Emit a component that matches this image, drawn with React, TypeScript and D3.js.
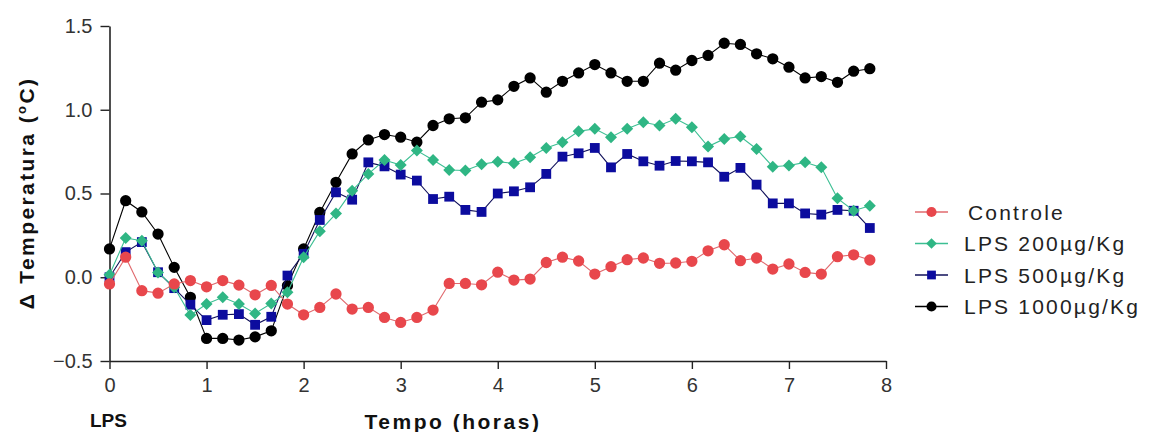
import * as d3 from 'd3'
import React, { useEffect, useRef } from 'react'

// sample times (minutes after LPS)
const minutes = [0, 10, 20, 30, 40, 50, 60, 70, 80, 90, 100, 110, 120, 130, 140, 150, 160, 170, 180, 190,
  200, 210, 220, 230, 240, 250, 260, 270, 280, 290, 300, 310, 320, 330, 340, 350, 360, 370, 380, 390,
  400, 410, 420, 430, 440, 450, 460, 470]

const controle = [-0.04, 0.12, -0.08, -0.095, -0.04, -0.02, -0.057, -0.02, -0.047, -0.105, -0.049, -0.16,
  -0.224, -0.18, -0.10, -0.19, -0.18, -0.24, -0.27, -0.24, -0.196, -0.037, -0.037, -0.045,
  0.03, -0.017, -0.011, 0.088, 0.12, 0.097, 0.019, 0.063, 0.105, 0.115, 0.083, 0.085,
  0.095, 0.158, 0.194, 0.099, 0.115, 0.049, 0.079, 0.029, 0.019, 0.123, 0.134, 0.103]

const lps200 = [0.015, 0.234, 0.218, 0.029, -0.06, -0.226, -0.16, -0.12, -0.16, -0.216, -0.157, -0.09,
  0.12, 0.275, 0.38, 0.517, 0.617, 0.70, 0.67, 0.756, 0.70, 0.64, 0.637, 0.675,
  0.69, 0.68, 0.716, 0.772, 0.806, 0.872, 0.886, 0.836, 0.886, 0.925, 0.906, 0.946,
  0.896, 0.78, 0.826, 0.84, 0.766, 0.66, 0.667, 0.686, 0.656, 0.471, 0.397, 0.427]

const lps500 = [0.0, 0.15, 0.21, 0.03, -0.065, -0.164, -0.256, -0.224, -0.22, -0.284, -0.236, 0.01,
  0.14, 0.342, 0.507, 0.463, 0.686, 0.662, 0.613, 0.577, 0.467, 0.481, 0.402, 0.39,
  0.50, 0.513, 0.537, 0.617, 0.72, 0.74, 0.772, 0.656, 0.736, 0.692, 0.666, 0.694,
  0.692, 0.686, 0.60, 0.653, 0.553, 0.441, 0.441, 0.381, 0.374, 0.402, 0.397, 0.294]

const lps1000 = [0.169, 0.457, 0.39, 0.258, 0.059, -0.12, -0.365, -0.365, -0.375, -0.356, -0.32, -0.05,
  0.169, 0.387, 0.567, 0.736, 0.82, 0.852, 0.836, 0.806, 0.906, 0.946, 0.952, 1.045,
  1.059, 1.14, 1.19, 1.105, 1.17, 1.22, 1.27, 1.22, 1.17, 1.17, 1.278, 1.236,
  1.294, 1.324, 1.397, 1.39, 1.334, 1.304, 1.254, 1.19, 1.198, 1.164, 1.23, 1.245]

const seriesNames = ['Controle', 'LPS 200µg/Kg', 'LPS 500µg/Kg', 'LPS 1000µg/Kg']
const xTicks = [0, 1, 2, 3, 4, 5, 6, 7, 8]
const yTicks = [-0.5, 0.0, 0.5, 1.0, 1.5]

const W = 1149, H = 432
const FONT = '"Liberation Sans", Arial, sans-serif'

function Chart() {
  const ref = useRef<SVGSVGElement>(null)

  useEffect(() => {
    const svg = d3.select(ref.current)
    svg.selectAll('*').remove()

    const x = d3.scaleLinear().domain([0, 8]).range([109.5, 886])
    const y = d3.scaleLinear().domain([-0.5, 1.5]).range([361, 26])

    const series = [
      { name: seriesNames[0], values: controle, color: '#e8474c', line: '#e06a6e', shape: 'circle', size: 100 },
      { name: seriesNames[1], values: lps200, color: '#2fb684', line: '#3cbf93', shape: 'diamond', size: 72 },
      { name: seriesNames[2], values: lps500, color: '#0c0c9e', line: '#10105a', shape: 'square', size: 96 },
      { name: seriesNames[3], values: lps1000, color: '#000000', line: '#000000', shape: 'circle', size: 100 },
    ]

    const symbolPath = (shape: string, size: number) => {
      if (shape === 'square' || shape === 'diamond') return d3.symbol().type(d3.symbolSquare).size(size)()
      return d3.symbol().type(d3.symbolCircle).size(size)()
    }

    // axes
    const xAxis = svg.append('g')
      .attr('transform', `translate(0,${y(-0.5)})`)
      .call(d3.axisBottom(x).tickValues(xTicks).tickSize(8).tickSizeOuter(0).tickPadding(9).tickFormat(d3.format('d')))
    const yAxis = svg.append('g')
      .attr('transform', `translate(${x(0)},0)`)
      .call(d3.axisLeft(y).tickValues(yTicks).tickSize(9).tickSizeOuter(0).tickPadding(8).tickFormat(d3.format('.1f')))

    ;[xAxis, yAxis].forEach(g => {
      g.select('.domain').attr('stroke', '#222').attr('stroke-width', 1.6)
      g.selectAll('.tick line').attr('stroke', '#222').attr('stroke-width', 1.4)
      g.selectAll('.tick text')
        .attr('fill', '#333')
        .style('font-family', FONT)
        .style('font-size', '20px')
    })

    // lines and markers, black first so control sits on top
    const drawOrder = [3, 2, 1, 0]
    drawOrder.forEach(k => {
      const s = series[k]
      const pts = s.values.map((v, i) => [minutes[i] / 60, v] as [number, number])
      svg.append('path')
        .datum(pts)
        .attr('fill', 'none')
        .attr('stroke', s.line)
        .attr('stroke-width', 1.1)
        .attr('d', d3.line<[number, number]>().x(d => x(d[0])).y(d => y(d[1])))
      svg.append('g')
        .selectAll('path')
        .data(pts)
        .join('path')
        .attr('d', symbolPath(s.shape, s.size))
        .attr('fill', s.color)
        .attr('transform', d => `translate(${x(d[0])},${y(d[1])})${s.shape === 'diamond' ? ' rotate(45)' : ''}`)
    })

    // legend
    const legendY = [212, 243.5, 275, 306.5]
    const legend = svg.append('g')
    series.forEach((s, k) => {
      const g = legend.append('g').attr('transform', `translate(0,${legendY[k]})`)
      g.append('line').attr('x1', 915).attr('x2', 948).attr('stroke', s.line).attr('stroke-width', 1.5)
      g.append('path')
        .attr('d', symbolPath(s.shape, s.size * 0.8))
        .attr('fill', s.color)
        .attr('transform', `translate(931.5,0)${s.shape === 'diamond' ? ' rotate(45)' : ''}`)
      g.append('text')
        .attr('x', k === 0 ? 968 : 964)
        .attr('y', 7.5)
        .attr('fill', '#222')
        .style('font-family', FONT)
        .style('font-size', '21px')
        .style('letter-spacing', '2.2px')
        .text(s.name)
    })

    // titles
    const yTitle = svg.append('text')
      .attr('transform', 'translate(34,193) rotate(-90)')
      .attr('text-anchor', 'middle')
      .attr('fill', '#111')
      .style('font-family', FONT)
      .style('font-size', '21px')
      .style('font-weight', 'bold')
      .style('letter-spacing', '2.4px')
    yTitle.append('tspan').text('Δ Temperatura (')
    yTitle.append('tspan').attr('dy', -8).style('font-size', '13px').text('o')
    yTitle.append('tspan').attr('dy', 8).text('C)')

    svg.append('text')
      .attr('x', 453).attr('y', 429)
      .attr('text-anchor', 'middle')
      .attr('fill', '#111')
      .style('font-family', FONT)
      .style('font-size', '21px')
      .style('font-weight', 'bold')
      .style('letter-spacing', '2.5px')
      .text('Tempo (horas)')

    svg.append('text')
      .attr('x', 90).attr('y', 426.5)
      .attr('fill', '#111')
      .style('font-family', FONT)
      .style('font-size', '19px')
      .style('font-weight', 'bold')
      .text('LPS')
  }, [])

  return <svg ref={ref} width={W} height={H} style={{ display: 'block', background: '#fff' }} />
}

export default function App() {
  return (
    <div style={{ position: 'absolute', left: 0, top: 0, width: W, height: H, background: '#fff' }}>
      <Chart />
    </div>
  )
}
